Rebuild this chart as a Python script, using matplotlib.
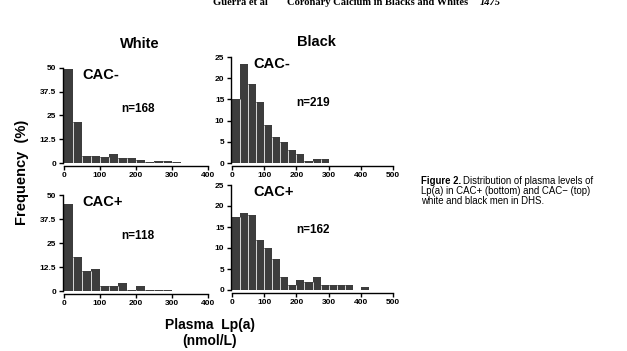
import matplotlib
matplotlib.use("Agg")
import matplotlib.pyplot as plt
import numpy as np

bin_width = 25

# percent per 25 nmol/L bin
white_neg = [49.5, 21.5, 3.5, 3.5, 3.2, 4.5, 2.8, 2.8, 1.8, 0.6, 0.9, 0.9, 0.6]
white_pos = [45.5, 17.5, 10.5, 11.5, 2.5, 2.5, 4.2, 0.6, 2.5, 0.6, 0.6, 0.6]
black_neg = [15.0, 23.3, 18.7, 14.5, 9.0, 6.2, 5.0, 3.1, 2.2, 0.4, 1.0, 1.0]
black_pos = [17.3, 18.3, 17.9, 11.8, 9.9, 7.4, 3.0, 1.2, 2.3, 1.8, 3.0, 1.2,
             1.2, 1.2, 1.2, 0.0, 0.6]

n_labels = {"white_neg": "n=168", "white_pos": "n=118",
            "black_neg": "n=219", "black_pos": "n=162"}

W, H = 627, 351
fig = plt.figure(figsize=(W / 100, H / 100), dpi=100)
plt.rcParams['font.family'] = ['Liberation Sans', 'DejaVu Sans']


def px_axes(x0, x1, y0, y1):
    # x0,x1: pixel columns of data limits; y0: pixel row of y=0, y1: row of ymax
    return fig.add_axes([x0 / W, 1 - y0 / H, (x1 - x0) / W, (y0 - y1) / H])


def panel(ax, vals, xmax, ymax, yticks, cac, n):
    vals = np.asarray(vals)
    edges = np.arange(len(vals)) * bin_width
    ax.bar(edges, vals, width=bin_width, align='edge', color='#3d3d3d',
           edgecolor='none')
    # light separators between neighbouring bars
    sep_h = np.minimum(vals[:-1], vals[1:])
    ax.vlines(edges[1:], 0, sep_h, color='#d8d8d8', linewidth=0.7)
    ax.set_xlim(0, xmax)
    ax.set_ylim(0, ymax)
    ax.set_xticks(np.arange(0, xmax + 1, 100))
    ax.set_yticks(yticks)
    ax.set_yticklabels([("%g" % t) for t in yticks])
    for s in ['top', 'right']:
        ax.spines[s].set_visible(False)
    ax.spines['bottom'].set_position(('outward', 2))
    ax.spines['left'].set_position(('outward', 1))
    for s in ['bottom', 'left']:
        ax.spines[s].set_linewidth(1.0)
    ax.tick_params(length=3, width=1, pad=1.5, labelsize=6)
    for lab in ax.get_xticklabels() + ax.get_yticklabels():
        lab.set_fontweight('bold')
    ax.text(0.13, 0.93, cac, transform=ax.transAxes, fontsize=10.5,
            fontweight='bold', va='center')
    ax.text(0.4, 0.57, n, transform=ax.transAxes, fontsize=8.5,
            fontweight='bold', va='center')


ax1 = px_axes(64, 208, 163, 68)
panel(ax1, white_neg, 400, 50, [0, 12.5, 25, 37.5, 50], "CAC-", n_labels["white_neg"])
ax2 = px_axes(232, 393, 163, 57)
panel(ax2, black_neg, 500, 25, [0, 5, 10, 15, 20, 25], "CAC-", n_labels["black_neg"])
ax3 = px_axes(64, 208, 291, 195)
panel(ax3, white_pos, 400, 50, [0, 12.5, 25, 37.5, 50], "CAC+", n_labels["white_pos"])
ax4 = px_axes(232, 393, 290, 185)
panel(ax4, black_pos, 500, 25, [0, 5, 10, 15, 20, 25], "CAC+", n_labels["black_pos"])

fig.text(140 / W, 1 - 44 / H, "White", ha='center', va='center',
         fontsize=10.5, fontweight='bold')
fig.text(316 / W, 1 - 42 / H, "Black", ha='center', va='center',
         fontsize=10.5, fontweight='bold')
fig.text(22 / W, 1 - 172 / H, "Frequency  (%)", rotation=90, ha='center',
         va='center', fontsize=10.5, fontweight='bold')
fig.text(210 / W, 1 - 333 / H, "Plasma  Lp(a)\n(nmol/L)", ha='center',
         va='center', fontsize=10, fontweight='bold', linespacing=1.25)

# running header, mostly cut off by the top edge
hdr_y = 1 - 5 / H
fig.text(213 / W, hdr_y, "Guerra et al", family='Liberation Serif',
         fontsize=7.6, fontweight='bold', va='baseline')
fig.text(287 / W, hdr_y, "Coronary Calcium in Blacks and Whites",
         family='Liberation Serif', fontsize=7.6, fontweight='bold', va='baseline')
fig.text(480 / W, hdr_y, "1475", family='Liberation Serif', fontsize=7.6,
         fontweight='bold', style='italic', va='baseline')

# caption
cap_fs = 6.9
fig.canvas.draw()
r = fig.canvas.get_renderer()
t0 = fig.text(421 / W, 1 - 181 / H, "Figure 2.", fontsize=cap_fs,
              fontweight='bold', va='center')
bb = t0.get_window_extent(renderer=r)
fig.text((bb.x1 + 2) / W, 1 - 181 / H, "Distribution of plasma levels of",
         fontsize=cap_fs, va='center')
fig.text(421 / W, 1 - 191 / H, "Lp(a) in CAC+ (bottom) and CAC\u2212 (top)",
         fontsize=cap_fs, va='center')
fig.text(421 / W, 1 - 201 / H, "white and black men in DHS.",
         fontsize=cap_fs, va='center')

fig.savefig("out.png", dpi=100)
